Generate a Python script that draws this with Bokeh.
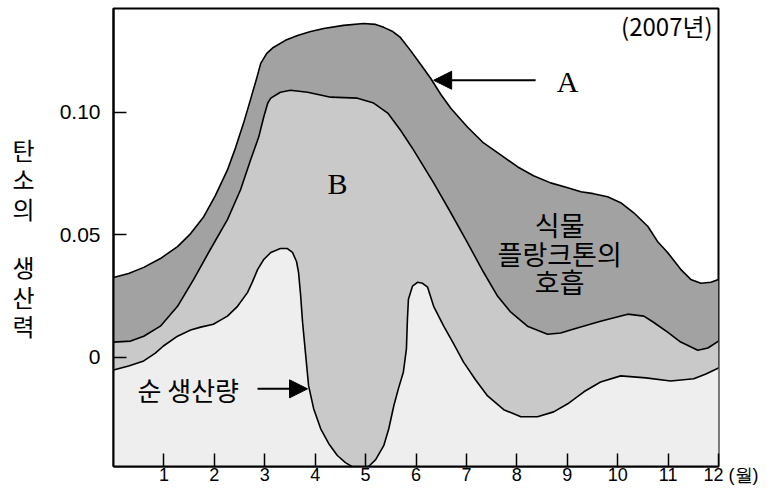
from bokeh.plotting import figure
from bokeh.models import Range1d, FixedTicker, Label, Arrow, NormalHead
from bokeh.embed import file_html
from bokeh.resources import INLINE

# ---------------- data ----------------
# upper curve A (gross production)
top_month = [0.00, 0.30, 0.60, 0.93, 1.27, 1.53, 1.79, 2.02, 2.26, 2.42,
             2.58, 2.72, 2.84, 2.92, 3.04, 3.17, 3.41, 3.65, 3.91, 4.17,
             4.56, 4.96, 5.20, 5.36, 5.54, 5.69, 5.89, 6.09, 6.29, 6.49,
             6.69, 7.02, 7.34, 7.68, 8.02, 8.33, 8.67, 9.01, 9.27, 9.52,
             9.80, 10.06, 10.32, 10.60, 10.79, 10.99, 11.25, 11.45, 11.65, 11.85,
             12.00]
top_value = [0.0325, 0.0341, 0.0366, 0.0402, 0.0451, 0.0504, 0.0573, 0.0659, 0.0764, 0.0854,
             0.0955, 0.1053, 0.1138, 0.1199, 0.1240, 0.1264, 0.1293, 0.1313, 0.1329, 0.1341,
             0.1354, 0.1362, 0.1358, 0.1346, 0.1329, 0.1305, 0.1252, 0.1195, 0.1138, 0.1073,
             0.1016, 0.0939, 0.0874, 0.0825, 0.0776, 0.0740, 0.0711, 0.0691, 0.0675, 0.0667,
             0.0654, 0.0630, 0.0589, 0.0533, 0.0472, 0.0427, 0.0358, 0.0317, 0.0301, 0.0305,
             0.0317]

# middle curve (B upper edge)
mid_month = [0.00, 0.34, 0.60, 0.93, 1.27, 1.59, 1.92, 2.26, 2.52, 2.72,
             2.88, 2.98, 3.06, 3.12, 3.31, 3.51, 3.85, 4.31, 4.84, 5.16,
             5.44, 5.69, 5.95, 6.35, 6.69, 7.02, 7.34, 7.62, 7.88, 8.21,
             8.61, 8.87, 9.13, 9.66, 10.20, 10.52, 10.71, 10.99, 11.25, 11.59,
             11.79, 12.00]
mid_value = [0.0061, 0.0065, 0.0085, 0.0126, 0.0207, 0.0317, 0.0439, 0.0561, 0.0683, 0.0805,
             0.0898, 0.0980, 0.1037, 0.1057, 0.1081, 0.1089, 0.1081, 0.1061, 0.1057, 0.1037,
             0.0996, 0.0927, 0.0846, 0.0711, 0.0589, 0.0467, 0.0346, 0.0248, 0.0183, 0.0126,
             0.0093, 0.0098, 0.0114, 0.0146, 0.0175, 0.0167, 0.0142, 0.0102, 0.0061, 0.0028,
             0.0037, 0.0065]

# lower curve (net production)
net_month = [0.00, 0.30, 0.60, 0.83, 0.99, 1.27, 1.53, 1.73, 1.98, 2.26,
             2.46, 2.66, 2.76, 2.86, 2.98, 3.12, 3.31, 3.45, 3.55, 3.63,
             3.67, 3.71, 3.75, 3.81, 3.87, 3.97, 4.11, 4.27, 4.44, 4.60,
             4.76, 4.90, 5.04, 5.20, 5.36, 5.46, 5.56, 5.65, 5.75, 5.81,
             5.83, 5.85, 5.93, 6.03, 6.13, 6.23, 6.35, 6.55, 6.75, 6.94,
             7.18, 7.42, 7.74, 8.08, 8.41, 8.73, 9.01, 9.33, 9.66, 10.06,
             10.56, 11.05, 11.51, 11.75, 12.00]
net_value = [-0.0053, -0.0037, -0.0016, 0.0016, 0.0045, 0.0085, 0.0110, 0.0122, 0.0134, 0.0167,
             0.0207, 0.0264, 0.0309, 0.0358, 0.0398, 0.0427, 0.0443, 0.0443, 0.0427, 0.0390,
             0.0346, 0.0256, 0.0142, 0.0012, -0.0118, -0.0211, -0.0293, -0.0354, -0.0402, -0.0431,
             -0.0451, -0.0455, -0.0451, -0.0419, -0.0362, -0.0293, -0.0199, -0.0130, -0.0061, 0.0033,
             0.0154, 0.0236, 0.0289, 0.0305, 0.0301, 0.0285, 0.0207, 0.0126, 0.0053, -0.0020,
             -0.0093, -0.0159, -0.0215, -0.0244, -0.0244, -0.0224, -0.0191, -0.0142, -0.0102, -0.0077,
             -0.0085, -0.0098, -0.0089, -0.0069, -0.0045]

x_ticks = [1, 2, 3, 4, 5, 6, 7, 8, 9, 10, 11, 12]
x_tick_labels = ["1", "2", "3", "4", "5", "6", "7", "8", "9", "10", "11", "12"]
y_ticks = [0, 0.05, 0.10]
y_tick_labels = ["0", "0.05", "0.10"]
y_axis_chars = ["탄", "소", "의", "", "생", "산", "력"]
year_label = "(2007년)"
unit_label = "(월)"
resp_lines = ["식물", "플랑크톤의", "호흡"]
net_label = "순 생산량"

X_MIN, X_MAX = 0.0, 12.0
Y_MIN, Y_MAX = -0.0447, 0.1423

KR = "Noto Sans CJK KR"
SANS = "Liberation Sans"
SERIF = "Liberation Serif"

p = figure(width=760, height=487, output_backend="svg", toolbar_location=None,
           x_range=Range1d(X_MIN, X_MAX), y_range=Range1d(Y_MIN, Y_MAX),
           min_border_left=113, min_border_right=42, min_border_top=8, min_border_bottom=19)
p.grid.visible = False
p.background_fill_color = "white"
p.border_fill_color = "white"
p.outline_line_color = "black"
p.outline_line_width = 2

base = Y_MIN - 0.01
p.varea(x=top_month, y1=base, y2=top_value, fill_color="#a2a2a2")
p.varea(x=mid_month, y1=base, y2=mid_value, fill_color="#c9c9c9")
p.varea(x=net_month, y1=base, y2=net_value, fill_color="#eeeeee")
for xs, ys in ((top_month, top_value), (mid_month, mid_value), (net_month, net_value)):
    p.line(xs, ys, line_color="black", line_width=1.6, line_join="round")

# axes
NBSP = "\u00a0"
xa = p.xaxis[0]
xa.ticker = FixedTicker(ticks=x_ticks)
overrides = {t: s for t, s in zip(x_ticks, x_tick_labels)}
overrides[x_ticks[-1]] = NBSP * 5 + x_tick_labels[-1] + NBSP + unit_label
xa.major_label_overrides = overrides
xa.major_tick_in = 13
xa.major_tick_out = 0
xa.minor_tick_line_color = None
xa.axis_line_width = 2
xa.major_tick_line_width = 1.5
xa.major_label_standoff = -2
xa.major_label_text_font = SANS
xa.major_label_text_font_size = "18px"
xa.major_label_text_color = "black"

ya = p.yaxis[0]
ya.ticker = FixedTicker(ticks=y_ticks)
ya.major_label_overrides = {t: s for t, s in zip(y_ticks, y_tick_labels)}
ya.major_tick_in = 13
ya.major_tick_out = 0
ya.minor_tick_line_color = None
ya.axis_line_width = 2
ya.major_tick_line_width = 1.5
ya.major_label_standoff = 13
ya.major_label_text_font = SANS
ya.major_label_text_font_size = "21px"
ya.major_label_text_color = "black"
ya.axis_label = "\n".join(y_axis_chars)
ya.axis_label_orientation = "horizontal"
ya.axis_label_text_font = KR
ya.axis_label_text_font_size = "24px"
ya.axis_label_text_font_style = "normal"
ya.axis_label_text_line_height = 0.84
ya.axis_label_text_color = "black"
ya.axis_label_standoff = 22

# annotations
def lab(x, y, text, font=KR, size="22px", align="center"):
    p.add_layout(Label(x=x, y=y, text=text, text_font=font, text_font_size=size,
                       text_align=align, text_baseline="middle", text_color="black"))

lab(11.885, 0.1354, year_label, size="24px", align="right")
lab(9.008, 0.1126, "A", font=SERIF, size="30px")
lab(4.444, 0.0707, "B", font=SERIF, size="30px")
for t, yv in zip(resp_lines, [0.0541, 0.0423, 0.0309]):
    lab(8.85, yv, t, size="27px")
lab(0.476, -0.0134, net_label, size="26px", align="left")

p.add_layout(Arrow(x_start=8.373, y_start=0.1130, x_end=6.35, y_end=0.1130,
                   line_width=2, line_color="black",
                   end=NormalHead(size=18, fill_color="black", line_color="black")))
p.add_layout(Arrow(x_start=2.857, y_start=-0.0130, x_end=3.849, y_end=-0.0130,
                   line_width=2, line_color="black",
                   end=NormalHead(size=18, fill_color="black", line_color="black")))

open("out.html", "w").write(file_html(p, INLINE))
